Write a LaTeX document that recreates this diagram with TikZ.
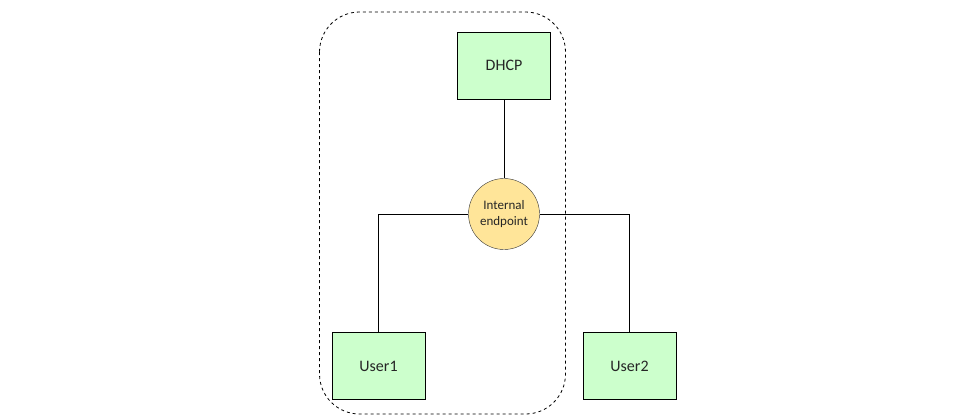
\documentclass[tikz,border=0pt]{standalone}
\usepackage{fontspec}
\setmainfont{Carlito}
\begin{document}
\begin{tikzpicture}[x=1pt,y=-1pt,
  box/.style={draw=black, fill=boxgreen, minimum width=93pt, minimum height=67pt, inner sep=0pt, font=\fontsize{16}{18}\selectfont, text=black!85},
  endpt/.style={circle, draw=black!80, fill=circyellow, minimum size=71pt, inner sep=0pt, align=center, font=\fontsize{13}{16}\selectfont, text=black!85},
  conn/.style={draw=black, line width=0.8pt},
  group/.style={draw=black, dashed, line width=0.8pt, rounded corners=40pt}]
\definecolor{boxgreen}{HTML}{CCFFCC}
\definecolor{circyellow}{HTML}{FFE599}
\useasboundingbox (0,0) rectangle (960,416);
\draw[group] (319.5,12) rectangle (565.5,414);
\node[box] (dhcp) at (504,65.5) {DHCP};
\node[endpt] (ep) at (504,214) {Internal\\endpoint};
\node[box] (u1) at (378.5,366) {User1};
\node[box] (u2) at (629.5,366) {User2};
\path[conn] (dhcp.south) -- (ep.north);
\path[conn] (ep.west) -| (u1.north);
\path[conn] (ep.east) -| (u2.north);
\end{tikzpicture}
\end{document}
